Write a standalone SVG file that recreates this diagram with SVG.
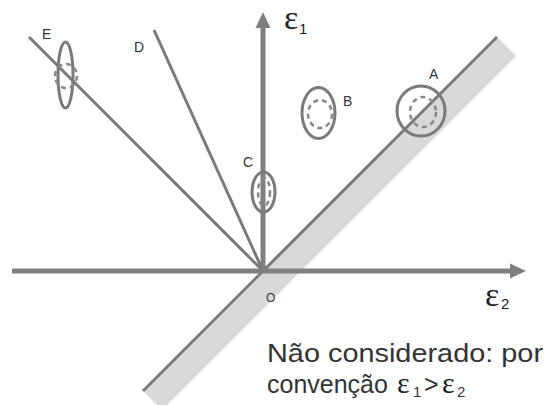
<svg xmlns="http://www.w3.org/2000/svg" width="551" height="405" viewBox="0 0 551 405">
<style>
.axis{stroke:#7f7f7f;stroke-width:5;fill:none}
.ray{stroke:#7a7a7a;stroke-width:3;fill:none}
.outer{stroke:#7a7a7a;stroke-width:3;fill:none}
.inner{stroke:#888;stroke-width:2.5;fill:none;stroke-dasharray:5 4}
.lbl{font-family:"Liberation Sans",Arial,sans-serif;font-size:14px;fill:#333}
.eps{font-family:"Liberation Serif","Times New Roman",serif;fill:#222}
.sub{font-family:"Liberation Sans",Arial,sans-serif}
.txt{font-family:"Liberation Sans",Arial,sans-serif;font-size:25px;fill:#333}
.head{fill:#7f7f7f}
</style>
<rect width="551" height="405" fill="#fff"/>
<g id="band">
<polygon points="497,37 516,56 162,410 143,391" fill="#d9d9d9"/>
</g>
<g id="connectors">
<line class="ray" x1="497" y1="37" x2="143" y2="391"/>
<line class="ray" x1="263" y1="271" x2="154" y2="30"/>
<line class="ray" x1="263" y1="271" x2="29" y2="37"/>
<line class="axis" x1="12" y1="271" x2="512" y2="271"/>
<polygon class="head" points="526,271 510,263.5 510,278.5"/>
<line class="axis" x1="263" y1="271" x2="263" y2="26"/>
<polygon class="head" points="263,12 255.5,28 270.5,28"/>
</g>
<g id="nodeA">
<ellipse class="outer" cx="421" cy="111" rx="24" ry="25"/>
<ellipse class="inner" cx="423" cy="112" rx="13" ry="15"/>
<text class="lbl" x="429" y="79">A</text>
</g>
<g id="nodeB">
<ellipse class="outer" cx="318.5" cy="113" rx="16.5" ry="25.5"/>
<ellipse class="inner" cx="320" cy="114" rx="12" ry="14"/>
<text class="lbl" x="343" y="106">B</text>
</g>
<g id="nodeC">
<ellipse class="outer" cx="263.5" cy="192" rx="11.5" ry="20"/>
<ellipse class="inner" cx="264" cy="192" rx="6" ry="14"/>
<text class="lbl" x="243" y="167">C</text>
</g>
<g id="nodeD">
<text class="lbl" x="134" y="52">D</text>
</g>
<g id="nodeE">
<ellipse class="outer" cx="65.5" cy="75" rx="7.5" ry="33"/>
<ellipse class="inner" cx="66" cy="76" rx="11" ry="12"/>
<text class="lbl" x="42" y="39">E</text>
</g>
<g id="origin">
<text class="lbl" x="266" y="302" style="font-size:12px">O</text>
</g>
<g id="axisLabels">
<text class="eps" x="284" y="29" font-size="34">ε<tspan class="sub" font-size="15" x="299" dy="5">1</tspan></text>
<text class="eps" x="485" y="306" font-size="34">ε<tspan class="sub" font-size="15" x="501" dy="3">2</tspan></text>
</g>
<g id="note">
<text class="txt" x="267" y="362" textLength="276" lengthAdjust="spacingAndGlyphs">Não considerado: por</text>
<text class="txt" x="267" y="393">convenção <tspan x="397" class="eps" font-size="30">ε</tspan><tspan x="413" dy="4" font-size="15">1</tspan><tspan x="424" dy="-4">&gt;</tspan><tspan x="442" class="eps" font-size="30">ε</tspan><tspan x="457" dy="4" font-size="15">2</tspan></text>
</g>
</svg>
